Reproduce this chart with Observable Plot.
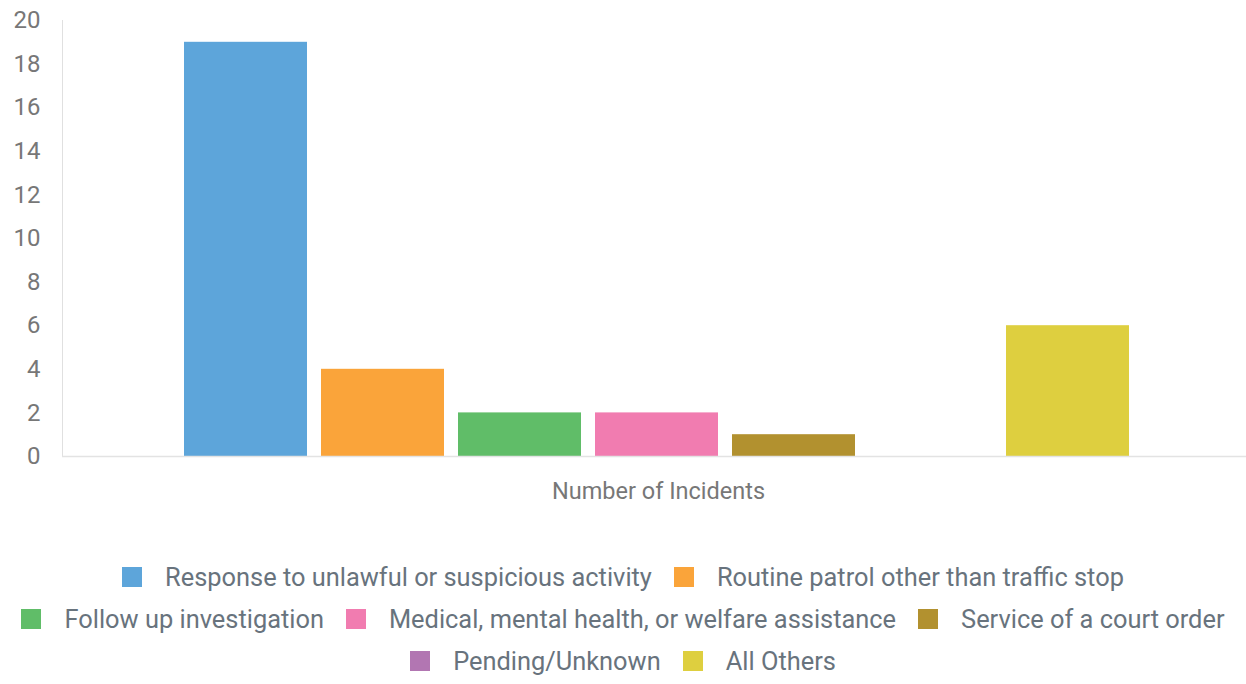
<!DOCTYPE html>
<html>
<head>
<meta charset="utf-8">
<script src="https://cdn.jsdelivr.net/npm/d3@7"></script>
<script src="https://cdn.jsdelivr.net/npm/@observablehq/plot@0.6"></script>
<style>
  html, body { margin: 0; padding: 0; background: #fff; }
  #chart { width: 1246px; }
  .legend { width: 1246px; display: flex; flex-wrap: wrap; justify-content: center; margin-top: 36px;
            font-family: Roboto, sans-serif; font-size: 25.4px; color: #68737d; }
  .item { display: flex; align-items: center; height: 42px; margin: 0 11px; }
  .sw { width: 20px; height: 20px; margin-right: 23px; }
</style>
</head>
<body>
<div id="chart"></div>
<script>
const categories = [
  "Response to unlawful or suspicious activity",
  "Routine patrol other than traffic stop",
  "Follow up investigation",
  "Medical, mental health, or welfare assistance",
  "Service of a court order",
  "Pending/Unknown",
  "All Others"
];
const values = [19, 4, 2, 2, 1, 0, 6];
const colors = ["#5da5da", "#faa43a", "#60bd68", "#f17cb0", "#b2912f", "#b276b2", "#decf3f"];
const yTicks = [0, 2, 4, 6, 8, 10, 12, 14, 16, 18, 20];
const groupLabel = "Number of Incidents";

const data = categories.map((c, i) => ({category: c, value: values[i]}));

const plot = Plot.plot({
  width: 1246,
  height: 520,
  marginLeft: 62,
  marginRight: 0,
  marginTop: 20,
  marginBottom: 64,
  style: {fontFamily: "Roboto, sans-serif", color: "#757575", background: "#fff"},
  x: {domain: categories, paddingInner: 0.103, paddingOuter: 0.87, align: 0.512, axis: null},
  y: {domain: [0, 20], axis: null},
  color: {domain: categories, range: colors},
  marks: [
    Plot.frame({anchor: "left", stroke: "#e0e0e0"}),
    Plot.barY(data, {x: "category", y: "value", fill: "category"}),
    Plot.ruleY([0], {stroke: "#e3e3e3", strokeWidth: 1.5}),
    Plot.axisY({ticks: yTicks, tickSize: 0, tickPadding: 22, fontSize: 24, fill: "#777", label: null}),
    Plot.text([groupLabel], {frameAnchor: "bottom", dx: 4, dy: 42, fontSize: 23.5, fill: "#777"})
  ]
});
document.getElementById("chart").appendChild(plot);

const legend = document.createElement("div");
legend.className = "legend";
categories.forEach((c, i) => {
  const item = document.createElement("div");
  item.className = "item";
  const sw = document.createElement("span");
  sw.className = "sw";
  sw.style.background = colors[i];
  const t = document.createElement("span");
  t.textContent = c;
  item.appendChild(sw);
  item.appendChild(t);
  legend.appendChild(item);
});
document.body.appendChild(legend);
</script>
</body>
</html>
